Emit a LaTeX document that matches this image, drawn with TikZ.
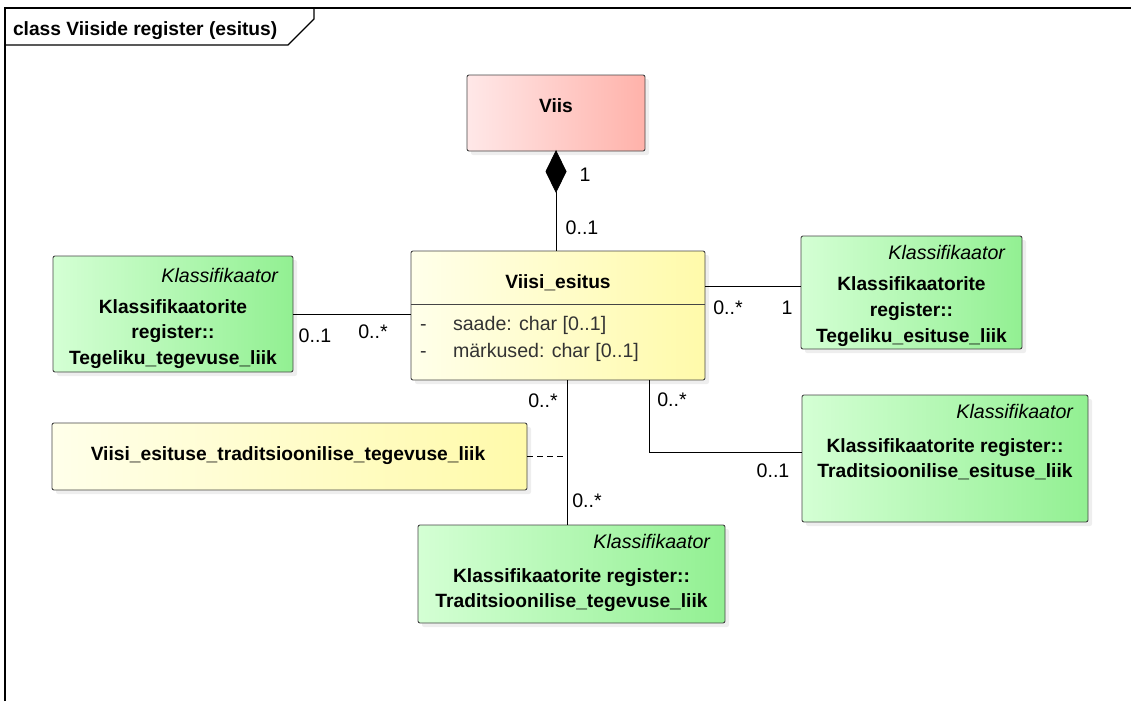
\documentclass[tikz,border=0pt]{standalone}
\usepackage{fontspec}
\setmainfont{Liberation Sans}
\usetikzlibrary{shadows,calc}

\definecolor{boxline}{HTML}{454545}
\definecolor{pinkL}{HTML}{FFE8E8}
\definecolor{pinkR}{HTML}{FFB2AA}
\definecolor{yelL}{HTML}{FFFFEA}
\definecolor{yelR}{HTML}{FFFAAA}
\definecolor{grnL}{HTML}{D4FFD4}
\definecolor{grnR}{HTML}{92F092}
\definecolor{attrtext}{HTML}{333333}

\tikzset{
  x=1pt, y=-1pt,
  classbox/.style={draw=boxline, line width=0.9pt, rounded corners=2pt,
    inner sep=0pt, outer sep=0pt,
    drop shadow={shadow xshift=4pt, shadow yshift=-4pt, fill=black!13}},
  pinkbox/.style={classbox, left color=pinkL, right color=pinkR},
  yellowbox/.style={classbox, left color=yelL, right color=yelR},
  greenbox/.style={classbox, left color=grnL, right color=grnR},
  txt/.style={inner sep=0pt, outer sep=0pt, font=\fontsize{19.6}{25}\selectfont},
  boldtxt/.style={inner sep=0pt, outer sep=0pt, font=\fontsize{19.2}{25}\selectfont\bfseries},
  stereo/.style={inner sep=0pt, outer sep=0pt, anchor=base east, font=\fontsize{19.6}{25}\selectfont\itshape},
  attr/.style={txt, anchor=base west, text=attrtext},
  mult/.style={txt, anchor=base},
  conn/.style={draw=black, line width=0.9pt},
  assocdash/.style={draw=black, line width=0.9pt, dash pattern=on 6pt off 4pt},
  frameline/.style={draw=black, line width=1.3pt}
}

\begin{document}
\begin{tikzpicture}
\useasboundingbox (0,0) rectangle (1131,701);

% diagram frame with its name tab
\draw[frameline] (5,701) -- (5,8) -- (1131,8);
\draw[frameline] (5,45) -- (288,45) -- (314,19) -- (314,8);
\node[boldtxt, anchor=base west] (title) at (13,35.5) {class Viiside register (esitus)};

% classes
\node[pinkbox, minimum width=178pt, minimum height=76pt] (viis) at (556,113) {};
\node[boldtxt, anchor=base] (viisname) at (556,112) {Viis};

\node[yellowbox, minimum width=294pt, minimum height=129pt] (ve) at (558,315.5) {};
\node[boldtxt, anchor=base] (vename) at (558,288) {Viisi\_esitus};
\draw[draw=boxline, line width=0.9pt] (ve.west |- 0,304) -- (ve.east |- 0,304);
\node[attr] (a1m) at (420,330) {-};
\node[attr] (a1) at (453,330) {saade: char [0..1]};
\node[attr] (a2m) at (420,357) {-};
\node[attr] (a2) at (453,357) {märkused: char [0..1]};

\node[greenbox, minimum width=240pt, minimum height=116pt] (tt) at (173,314) {};
\node[stereo] (ttst) at (278,282) {Klassifikaator};
\node[boldtxt, anchor=base] (tt1) at (173,313) {Klassifikaatorite};
\node[boldtxt, anchor=base] (tt2) at (173,338.5) {register::};
\node[boldtxt, anchor=base] (tt3) at (173,364) {Tegeliku\_tegevuse\_liik};

\node[greenbox, minimum width=221pt, minimum height=113pt] (te) at (911.5,292.5) {};
\node[stereo] (test) at (1005,259) {Klassifikaator};
\node[boldtxt, anchor=base] (te1) at (911.5,290) {Klassifikaatorite};
\node[boldtxt, anchor=base] (te2) at (911.5,316) {register::};
\node[boldtxt, anchor=base] (te3) at (911.5,342) {Tegeliku\_esituse\_liik};

\node[greenbox, minimum width=286pt, minimum height=127pt] (tre) at (945,458.5) {};
\node[stereo] (trest) at (1073,418) {Klassifikaator};
\node[boldtxt, anchor=base] (tre1) at (945,452) {Klassifikaatorite register::};
\node[boldtxt, anchor=base] (tre2) at (945,477) {Traditsioonilise\_esituse\_liik};

\node[greenbox, minimum width=307pt, minimum height=98pt] (trt) at (571.5,574) {};
\node[stereo] (trtst) at (710,548) {Klassifikaator};
\node[boldtxt, anchor=base] (trt1) at (571.5,582) {Klassifikaatorite register::};
\node[boldtxt, anchor=base] (trt2) at (571.5,607) {Traditsioonilise\_tegevuse\_liik};

\node[yellowbox, minimum width=475pt, minimum height=67pt] (vt) at (289.5,456.5) {};
\node[boldtxt, anchor=base] (vtname) at (288,460) {Viisi\_esituse\_traditsioonilise\_tegevuse\_liik};

% composition Viis <>-- Viisi_esitus
\coordinate (dtop) at (viis.south);
\coordinate (dbot) at ($(dtop)+(0,41)$);
\draw[conn, fill=black] (dtop) -- ($(dtop)+(10,20.5)$) -- (dbot) -- ($(dtop)+(-10,20.5)$) -- cycle;
\draw[conn] (dbot) -- (dbot |- ve.north);
\node[mult] (m1) at (585,181) {1};
\node[mult] (m2) at (582,234) {0..1};

% Viisi_esitus -- Tegeliku_tegevuse_liik
\draw[conn] (tt.east) -- (tt.east -| ve.west);
\node[mult] (m3) at (315,342) {0..1};
\node[mult] (m4) at (373,338) {0..*};

% Viisi_esitus -- Tegeliku_esituse_liik
\coordinate (k1) at (705,286);
\draw[conn] (ve.east |- k1) -- (te.west |- k1);
\node[mult] (m5) at (728,314) {0..*};
\node[mult] (m6) at (787,314) {1};

% Viisi_esitus -- Traditsioonilise_esituse_liik
\coordinate (k2) at (649,452);
\draw[conn] (ve.south -| k2) -- (k2) -- (tre.west |- k2);
\node[mult] (m7) at (672,406) {0..*};
\node[mult] (m8) at (773,477) {0..1};

% Viisi_esitus -- Traditsioonilise_tegevuse_liik with association class
\coordinate (k3) at (567,456.5);
\draw[conn] (ve.south -| k3) -- (trt.north -| k3);
\draw[assocdash] (vt.east) -- (vt.east -| k3);
\node[mult] (m9) at (543,407) {0..*};
\node[mult] (m10) at (587,507) {0..*};
\end{tikzpicture}
\end{document}
